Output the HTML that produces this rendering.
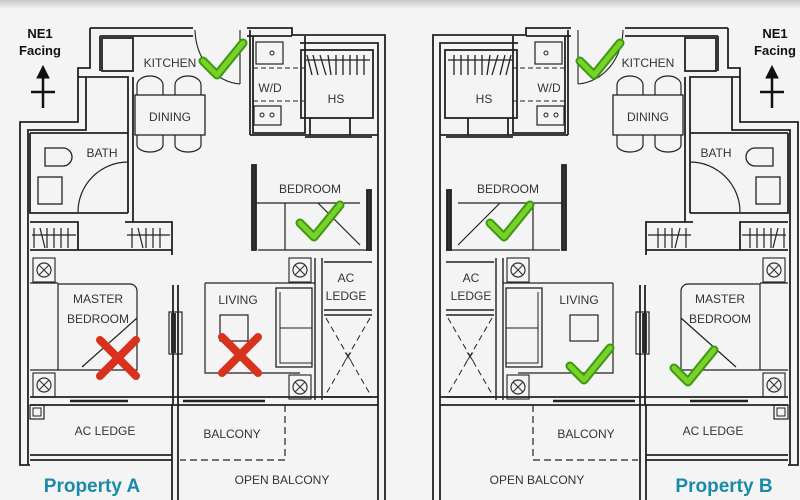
<!DOCTYPE html>
<html><head><meta charset="utf-8"><style>
html,body{margin:0;padding:0;background:#f4f4f4;}
svg{display:block}
text{font-family:"Liberation Sans",sans-serif;}
</style></head><body>
<svg width="800" height="500" viewBox="0 0 800 500" xmlns="http://www.w3.org/2000/svg">
<defs>
<linearGradient id="tb" x1="0" y1="0" x2="0" y2="1"><stop offset="0" stop-color="#c8c8c8"/><stop offset="1" stop-color="#f4f4f4"/></linearGradient>
<g id="fan"><rect x="0" y="0" width="22" height="24" fill="none" stroke="#333" stroke-width="1.2"/><circle cx="11" cy="12" r="7" fill="none" stroke="#333" stroke-width="1.2"/><path d="M6,7 L16,17 M16,7 L6,17" stroke="#333" stroke-width="1.1"/></g>
<g id="check"><path d="M0,18 L14,32 L40,0" fill="none" stroke="#3a9a10" stroke-width="9" stroke-linecap="round" stroke-linejoin="round"/><path d="M0,18 L14,32 L40,0" fill="none" stroke="#7ad12a" stroke-width="5" stroke-linecap="round" stroke-linejoin="round"/></g>
<g id="plan" fill="none" stroke="#222" stroke-width="1.8">
 <path d="M90,28 H193 M247,28 H292 V35 H385 V500 M90,28 V68 H78 V122 H20 V465 H30"/>
 <path d="M100,36 H193 M247,36 H292 M300,43 H378 V500 M100,36 V71 M86,77 V130 H28 V465"/>
 <rect x="102" y="38" width="31" height="33"/>
 <path d="M78,77 H128 V213 M133,77 V213 M30,133 H128 M30,133 V213 H128 M133,213 V222"/>
 <path d="M45,148 h18 a8,8 0 0 1 0,18 h-18 z" stroke-width="1.3"/>
 <rect x="38" y="177" width="24" height="27" stroke-width="1.3"/>
 <path d="M78,212 A50,50 0 0 1 128,162" stroke-width="1.2"/>
 <rect x="135" y="95" width="70" height="40" stroke-width="1.3"/>
 <path d="M137,95 V85 a13,9 0 0 1 26,0 V95 M175,95 V85 a13,9 0 0 1 26,0 V95 M137,135 V145 a13,7 0 0 0 26,0 V135 M175,135 V145 a13,7 0 0 0 26,0 V135" stroke-width="1.2"/>
 <path d="M195,30 A48,55 0 0 0 240,84 M240,30 V84" stroke-width="1.1"/>
 <path d="M250,30 V135 M253,36 V133 H305 V36"/>
 <rect x="256" y="42" width="27" height="22" stroke-width="1.2"/>
 <circle cx="272" cy="53" r="2" stroke-width="1"/>
 <path d="M253,68 H305 M253,101 H305" stroke-dasharray="5,3" stroke-width="1"/>
 <rect x="254" y="106" width="27" height="19" stroke-width="1.2"/>
 <circle cx="262" cy="115" r="2" stroke-width="1"/><circle cx="272" cy="115" r="2" stroke-width="1"/>
 <rect x="301" y="50" width="72" height="68"/>
 <path d="M305,60 H370 M307,55 L312,75 M313,55 L318,75 M320,55 L326,75 M328,55 L331,75 M336,55 V75 M343,55 V75 M350,55 V75 M357,55 V75 M364,55 V75" stroke-width="1.3"/>
 <path d="M310,118 V135 M350,118 V135 M250,135 H378 M305,137 H372"/>
 <rect x="252" y="165" width="4" height="85" fill="#333"/>
 <rect x="367" y="190" width="4" height="60" fill="#333"/>
 <path d="M256,203 H360 M285,203 V250 M318,203 L360,245 M258,250 H372" stroke-width="1.2"/>
 <path d="M30,222 H78 V250 M30,250 H172 M125,222 H172 V255"/>
 <path d="M34,228 V248 M40,228 L45,248 M47,228 V248 M54,228 V248 M61,228 V248 M68,228 V248 M32,235 H76 M132,228 V248 M138,228 L143,248 M146,228 V248 M153,228 V248 M160,228 V248 M127,235 H170" stroke-width="1.2"/>
 <use href="#fan" x="33" y="258"/>
 <use href="#fan" x="33" y="373"/>
 <path d="M30,283 H58 M58,284 H130 a7,7 0 0 1 7,7 V370 H58 Z M30,370 H58 M82,367 L137,318" stroke-width="1.2"/>
 <path d="M173,285 V405 M178,285 V405"/>
 <rect x="169" y="312" width="13" height="42" stroke-width="1.2"/>
 <rect x="172" y="314" width="3" height="38" fill="#333"/>
 <path d="M205,283 H315 M205,283 V373 H300" stroke-width="1.2"/>
 <rect x="220" y="315" width="28" height="26" stroke-width="1.2"/>
 <rect x="276" y="288" width="36" height="79" stroke-width="1.3"/>
 <path d="M280,292 V363 H312 M280,328 H312" stroke-width="1"/>
 <use href="#fan" x="289" y="258"/>
 <use href="#fan" x="289" y="375"/>
 <path d="M315,258 V400 M322,258 V400 M324,262 H372 M324,310 H372 M324,315 H372 M324,397 H372" stroke-width="1.4"/>
 <path d="M326,318 L370,394 M370,318 L326,394" stroke-dasharray="6,4" stroke-width="1"/>
 <path d="M30,397 H378 M30,405 H378"/>
 <path d="M70,401 H128 M183,401 H265" stroke-width="2.6"/>
 <rect x="30" y="405" width="14" height="14" stroke-width="1.2"/>
 <rect x="33" y="408" width="8" height="8" stroke-width="1"/>
 <path d="M30,455 H172 M30,460 H172 M172,405 V500 M178,405 V500"/>
 <path d="M285,405 V460 H180" stroke-dasharray="7,4" stroke-width="1.2"/>
</g>
</defs>
<rect x="0" y="0" width="800" height="9" fill="url(#tb)"/>
<rect x="0" y="9" width="800" height="491" fill="#f4f4f4"/>
<use href="#plan"/>
<use href="#plan" transform="translate(818,0) scale(-1,1)"/>

<g text-anchor="middle" style="font-size:12px;fill:#333">
<text x="170" y="67">KITCHEN</text><text x="270" y="92">W/D</text><text x="336" y="103">HS</text>
<text x="170" y="121">DINING</text><text x="102" y="157">BATH</text><text x="310" y="193">BEDROOM</text>
<text x="346" y="282">AC</text><text x="346" y="300">LEDGE</text><text x="348" y="361">X</text>
<text x="238" y="304">LIVING</text><text x="98" y="303">MASTER</text><text x="98" y="323">BEDROOM</text>
<text x="105" y="435">AC LEDGE</text><text x="232" y="438">BALCONY</text><text x="282" y="484">OPEN BALCONY</text>
<text x="648" y="67">KITCHEN</text><text x="549" y="92">W/D</text><text x="484" y="103">HS</text>
<text x="648" y="121">DINING</text><text x="716" y="157">BATH</text><text x="508" y="193">BEDROOM</text>
<text x="471" y="282">AC</text><text x="471" y="300">LEDGE</text><text x="470" y="361">X</text>
<text x="579" y="304">LIVING</text><text x="720" y="303">MASTER</text><text x="720" y="323">BEDROOM</text>
<text x="713" y="435">AC LEDGE</text><text x="586" y="438">BALCONY</text><text x="537" y="484">OPEN BALCONY</text>
</g>
<g text-anchor="middle" style="font-size:13px;font-weight:bold;fill:#111">
<text x="40" y="38">NE1</text><text x="40" y="55">Facing</text>
<text x="775" y="38">NE1</text><text x="775" y="55">Facing</text>
</g>
<g fill="#111" stroke="#111" stroke-width="2.5">
<path d="M37,78 L43,66 L49,78 Z" stroke-width="1"/><path d="M43,75 V108 M31,92 H55"/>
<path d="M766,78 L772,66 L778,78 Z" stroke-width="1"/><path d="M772,75 V108 M760,92 H784"/>
</g>
<text x="92" y="492" text-anchor="middle" style="font-size:19px;font-weight:bold;fill:#1a8aa8">Property A</text>
<text x="724" y="492" text-anchor="middle" style="font-size:19px;font-weight:bold;fill:#1a8aa8">Property B</text>

<use href="#check" x="203" y="43"/>
<use href="#check" x="300" y="205"/>
<use href="#check" x="580" y="43"/>
<use href="#check" x="490" y="205"/>
<use href="#check" x="570" y="348"/>
<use href="#check" x="674" y="350"/>
<g stroke="#d8321e" stroke-width="8" stroke-linecap="round">
<path d="M100,340 L136,376 M136,340 L100,376"/>
<path d="M222,337 L258,373 M258,337 L222,373"/>
</g>
</svg>
</body></html>
